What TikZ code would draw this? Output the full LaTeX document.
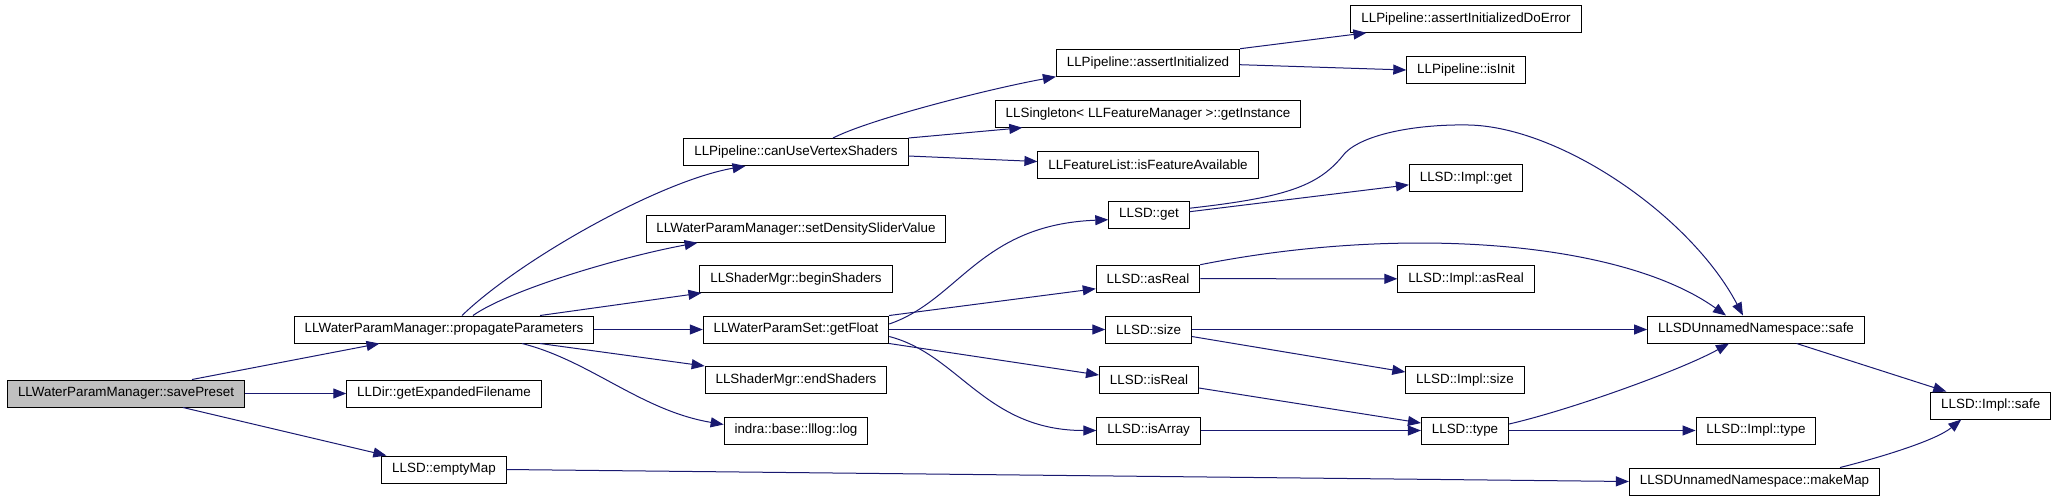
\documentclass[tikz,border=0pt]{standalone}
\usepackage{fontspec}
\setmainfont{Liberation Sans}
\usetikzlibrary{arrows.meta}
\definecolor{edgeblue}{HTML}{191970}
\definecolor{focusgray}{HTML}{BFBFBF}

\begin{document}
\begin{tikzpicture}[x=0.5pt,y=-0.5pt,
    fn/.style={draw,line width=0.5pt,fill=white,inner xsep=5.2pt,inner ysep=0pt,
      minimum height=13.5pt,font=\fontsize{6.7}{8}\selectfont},
    call/.style={draw=edgeblue,line width=0.5pt,-{Triangle[length=6.5pt,width=5pt]}}]
  \useasboundingbox (0,0) rectangle (2056,500);
  %\small
  \node[fn,fill=focusgray] (savePreset) at (126,393.5) {LLWaterParamManager::savePreset};
  \node[fn] (propagate) at (444,329.5) {LLWaterParamManager::propagateParameters};
  \node[fn] (expanded)  at (444,393.5) {LLDir::getExpandedFilename};
  \node[fn] (emptyMap)  at (444,469.5) {LLSD::emptyMap};
  \node[fn] (canUse)    at (796,152)   {LLPipeline::canUseVertexShaders};
  \node[fn] (density)   at (796,228.7) {LLWaterParamManager::setDensitySliderValue};
  \node[fn] (beginSh)   at (796,279)   {LLShaderMgr::beginShaders};
  \node[fn] (getFloat)  at (796,329.5) {LLWaterParamSet::getFloat};
  \node[fn] (endSh)     at (796,380)   {LLShaderMgr::endShaders};
  \node[fn] (lllog)     at (796,430.5) {indra::base::lllog::log};
  \node[fn] (assertInit) at (1148,62.7) {LLPipeline::assertInitialized};
  \node[fn] (getInst)   at (1148,113.7) {LLSingleton< LLFeatureManager >::getInstance};
  \node[fn] (featAvail) at (1148,164.5) {LLFeatureList::isFeatureAvailable};
  \node[fn] (sdGet)     at (1149,214.7) {LLSD::get};
  \node[fn] (asReal)    at (1148,278.7) {LLSD::asReal};
  \node[fn] (sdSize)    at (1148.6,329.5) {LLSD::size};
  \node[fn] (isReal)    at (1149,380)   {LLSD::isReal};
  \node[fn] (isArray)   at (1148.6,430.5) {LLSD::isArray};
  \node[fn] (doError)   at (1466,18.8)  {LLPipeline::assertInitializedDoError};
  \node[fn] (isInit)    at (1466,70)    {LLPipeline::isInit};
  \node[fn] (implGet)   at (1466,177.8) {LLSD::Impl::get};
  \node[fn] (implAsReal) at (1466,278.8) {LLSD::Impl::asReal};
  \node[fn] (implSize)  at (1465,380)   {LLSD::Impl::size};
  \node[fn] (sdType)    at (1465,430.5) {LLSD::type};
  \node[fn] (safe)      at (1756,329.5) {LLSDUnnamedNamespace::safe};
  \node[fn] (implType)  at (1756,430.5) {LLSD::Impl::type};
  \node[fn] (implSafe)  at (1990.7,405.5) {LLSD::Impl::safe};
  \node[fn] (makeMap)   at (1754.5,481.5) {LLSDUnnamedNamespace::makeMap};

  % savePreset
  \draw[call] ([xshift=33pt]savePreset.north) -- ([xshift=-32.25pt]propagate.south);
  \draw[call] (savePreset.east) -- (expanded.west);
  \draw[call] ([xshift=28.5pt]savePreset.south) -- ([xshift=2.5pt]emptyMap.north west);
  % propagateParameters
  \draw[call] ([xshift=9pt]propagate.north) .. controls +(58,-56) and +(-86,15) .. ([xshift=-25.25pt]canUse.south);
  \draw[call] ([xshift=14.5pt]propagate.north) .. controls +(37,-26) and +(-76,14) .. ([xshift=26pt]density.south west);
  \draw[call] ([xshift=48pt]propagate.north) -- ([xshift=1pt]beginSh.south west);
  \draw[call] (propagate.east) -- (getFloat.west);
  \draw[call] ([xshift=48pt]propagate.south) -- (endSh.north west);
  \draw[call] ([xshift=39pt]propagate.south) .. controls +(68,17) and +(-83,-14) .. ([yshift=3pt]lllog.west);
  % canUseVertexShaders
  \draw[call] ([xshift=18.5pt]canUse.north) .. controls +(37,-19) and +(-66,12) .. (assertInit.south west);
  \draw[call] (canUse.north east) -- ([xshift=13.75pt]getInst.south west);
  \draw[call] ([yshift=-2pt]canUse.east) -- ([yshift=1.5pt]featAvail.west);
  \draw[call] (assertInit.north east) -- ([xshift=8pt]doError.south west);
  \draw[call] ([yshift=-1pt]assertInit.east) -- (isInit.west);
  % getFloat
  \draw[call] ([yshift=2.75pt]getFloat.east) .. controls +(70,-24) and +(-128.5,5) .. ([yshift=-2.5pt]sdGet.west);
  \draw[call] (getFloat.north east) -- ([yshift=2pt]asReal.south west);
  \draw[call] (getFloat.east) -- (sdSize.west);
  \draw[call] (getFloat.south east) -- ([yshift=2.5pt]isReal.west);
  \draw[call] ([yshift=-3.5pt]getFloat.east) .. controls +(70,18) and +(-111,0) .. (isArray.west);
  % LLSD calls
  \draw[call] ([yshift=1.5pt]sdGet.east) -- ([yshift=-3.5pt]implGet.west);
  \draw[call] ([yshift=3.25pt]sdGet.east) .. controls (1290,197) and (1320,185) .. (1345,153)
    .. controls (1365,133) and (1420,124) .. (1469,125)
    .. controls (1560,127) and (1690,215) .. ([xshift=-6.5pt]safe.north);
  \draw[call] (asReal.north east) .. controls (1400,225) and (1620,240) .. ([xshift=-15pt]safe.north);
  \draw[call] (asReal.east) -- (implAsReal.west);
  \draw[call] (sdSize.east) -- (safe.west);
  \draw[call] ([yshift=-3.5pt]sdSize.east) -- ([yshift=4pt]implSize.west);
  \draw[call] ([yshift=-4pt]isReal.east) -- ([yshift=3.75pt]sdType.west);
  \draw[call] (isArray.east) -- (sdType.west);
  \draw[call] ([yshift=3.25pt]sdType.east) .. controls +(61,-14) and +(-49,27) .. ([xshift=-13.5pt]safe.south);
  \draw[call] (sdType.east) -- (implType.west);
  \draw[call] ([xshift=20.3pt]safe.south) -- ([xshift=8pt]implSafe.north west);
  \draw[call] ([xshift=42.75pt]makeMap.north) .. controls +(40,-10) and +(-25.5,21) .. ([xshift=15.5pt]implSafe.south west);
  \draw[call] (emptyMap.east) -- (makeMap.west);
\end{tikzpicture}
\end{document}
